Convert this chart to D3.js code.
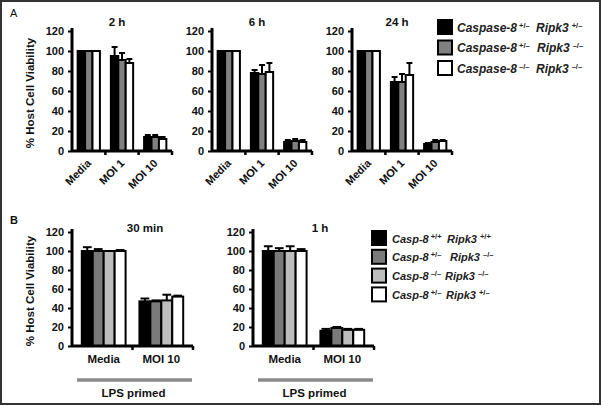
<!DOCTYPE html>
<html><head><meta charset="utf-8">
<script src="https://cdn.jsdelivr.net/npm/d3@7"></script>
<style>
body{margin:0;background:#fff;}
text{font-family:"Liberation Sans",Arial,sans-serif;}
</style></head>
<body><svg id="c" width="601" height="406"></svg>
<script>
// ---------- DATA ----------
const catsA = ["Media", "MOI 1", "MOI 10"];
const titlesA = ["2 h", "6 h", "24 h"];
// values per category, per series (Casp8+/- Ripk3+/-, Casp8+/- Ripk3-/-, Casp8-/- Ripk3-/-)
const valsA_2h  = [[100, 100, 100], [95, 91, 88], [14, 14, 12]];
const errA_2h   = [[0, 0, 0], [9, 7, 4], [2, 2, 2]];
const valsA_6h  = [[100, 100, 100], [78, 77, 79], [9, 10, 9]];
const errA_6h   = [[0, 0, 0], [3, 9, 9], [2, 2, 2]];
const valsA_24h = [[100, 100, 100], [69, 69, 76], [7, 9, 10]];
const errA_24h  = [[0, 0, 0], [5, 8, 12], [1, 2, 1]];
const seriesA = [
  ["Caspase-8", "+/\u2013", "Ripk3", "+/\u2013"],
  ["Caspase-8", "+/\u2013", "Ripk3", "\u2013/\u2013"],
  ["Caspase-8", "\u2013/\u2013", "Ripk3", "\u2013/\u2013"]
];
const coloursA = ["#000000", "#808080", "#ffffff"];

const catsB = ["Media", "MOI 10"];
const titlesB = ["30 min", "1 h"];
const valsB_30 = [[100, 100, 100, 100], [47, 47, 48, 52]];
const errB_30  = [[4, 2, 0, 1], [3, 1, 6, 1]];
const valsB_1h = [[100, 100, 100, 100], [16, 19, 17, 17]];
const errB_1h  = [[5, 3, 5, 2], [2, 1, 1, 1]];
const seriesB = [
  ["Casp-8", "+/+", "Ripk3", "+/+"],
  ["Casp-8", "+/\u2013", "Ripk3", "\u2013/\u2013"],
  ["Casp-8", "\u2013/\u2013", "Ripk3", "\u2013/\u2013"],
  ["Casp-8", "+/\u2013", "Ripk3", "+/\u2013"]
];
const coloursB = ["#000000", "#7a7a7a", "#bdbdbd", "#ffffff"];
const yTicks = [0, 20, 40, 60, 80, 100, 120];
const groupLabel = "LPS primed";
const yTitle = "% Host Cell Viability";

// ---------- DRAW ----------
const svg = d3.select("#c");
svg.append("rect").attr("x", 1).attr("y", 1).attr("width", 599).attr("height", 403)
  .attr("fill", "#fff").attr("stroke", "#333").attr("stroke-width", 2);

function panel(o) {
  const g = svg.append("g");
  const y = d3.scaleLinear().domain([0, 120]).range([o.y0, o.y120]);
  const x = d3.scaleBand().domain(o.cats).range([o.x0, o.x1])
    .paddingInner(o.pIn).paddingOuter(o.pOut);
  const nS = o.colours.length;
  const xs = d3.scaleBand().domain(d3.range(nS)).range([0, x.bandwidth()]);

  // bars
  o.cats.forEach((c, ci) => {
    o.vals[ci].forEach((v, si) => {
      const bx = x(c) + xs(si);
      g.append("rect").attr("x", bx).attr("y", y(v))
        .attr("width", xs.bandwidth()).attr("height", y(0) - y(v))
        .attr("fill", o.colours[si]).attr("stroke", "#000").attr("stroke-width", 2);
      const e = o.errs[ci][si];
      if (e > 0) {
        const cx = bx + xs.bandwidth() / 2;
        g.append("line").attr("x1", cx).attr("x2", cx).attr("y1", y(v)).attr("y2", y(v + e))
          .attr("stroke", "#000").attr("stroke-width", 2);
        g.append("line").attr("x1", cx - xs.bandwidth() * 0.4).attr("x2", cx + xs.bandwidth() * 0.4)
          .attr("y1", y(v + e)).attr("y2", y(v + e))
          .attr("stroke", "#000").attr("stroke-width", 2);
      }
    });
  });

  // y axis
  const ya = g.append("g").attr("transform", `translate(${o.x0},0)`)
    .call(d3.axisLeft(y).tickValues(yTicks).tickSize(4).tickPadding(4));
  ya.select(".domain").remove();
  ya.selectAll(".tick line").attr("stroke", "#000").attr("stroke-width", 2);
  ya.selectAll(".tick text").attr("font-size", 11).attr("font-weight", "bold")
    .attr("fill", "#111").attr("font-family", "Liberation Sans, Arial, sans-serif");
  g.append("line").attr("x1", o.x0).attr("x2", o.x0).attr("y1", y(0) + 1).attr("y2", y(120) - 3)
    .attr("stroke", "#000").attr("stroke-width", 3);

  // x axis
  g.append("line").attr("x1", o.x0).attr("x2", o.x1).attr("y1", y(0)).attr("y2", y(0))
    .attr("stroke", "#000").attr("stroke-width", 3);
  const step = x.step();
  const tickXs = o.cats.slice(1).map(c => x(c) - (step - x.bandwidth()) / 2);
  tickXs.push(o.x1);
  tickXs.forEach(tx => {
    g.append("line").attr("x1", tx).attr("x2", tx).attr("y1", y(0)).attr("y2", y(0) + 4)
      .attr("stroke", "#000").attr("stroke-width", 2.5);
  });

  // category labels
  o.cats.forEach(c => {
    const cx = x(c) + x.bandwidth() / 2;
    if (o.rotate) {
      g.append("text").attr("transform", `translate(${cx + 3},${y(0) + 13}) rotate(-45)`)
        .attr("text-anchor", "end").attr("font-size", 11).attr("font-weight", "bold")
        .attr("fill", "#111").text(c);
    } else {
      g.append("text").attr("x", cx).attr("y", y(0) + 17).attr("text-anchor", "middle")
        .attr("font-size", 11.5).attr("font-weight", "bold").attr("fill", "#111").text(c);
    }
  });

  // title
  g.append("text").attr("x", o.tx).attr("y", o.ty).attr("text-anchor", "middle")
    .attr("font-size", 11.5).attr("font-weight", "bold").attr("fill", "#111").text(o.title);

  if (o.ytitle) {
    g.append("text").attr("transform", `translate(${o.x0 - 38},${(y(0) + y(120)) / 2 + 2}) rotate(-90)`)
      .attr("text-anchor", "middle").attr("font-size", 11.5).attr("font-weight", "bold")
      .attr("fill", "#111").text(yTitle);
  }
  if (o.lps) {
    g.append("line").attr("x1", o.x0 + 5).attr("x2", o.x1 - 1).attr("y1", y(0) + 34).attr("y2", y(0) + 34)
      .attr("stroke", "#8a8a8a").attr("stroke-width", 3.5);
    g.append("text").attr("x", (o.x0 + o.x1) / 2 + 1).attr("y", y(0) + 51).attr("text-anchor", "middle")
      .attr("font-size", 11.5).attr("font-weight", "bold").attr("fill", "#111").text(groupLabel);
  }
}

const A = [[valsA_2h, errA_2h], [valsA_6h, errA_6h], [valsA_24h, errA_24h]];
A.forEach((d, i) => {
  const x0 = 72 + i * 140;
  panel({cats: catsA, vals: d[0], errs: d[1], colours: coloursA, x0: x0, x1: x0 + 100,
    y0: 151, y120: 31, pIn: 0.33, pOut: 0.17, rotate: true, title: titlesA[i],
    tx: x0 + 45, ty: 26, ytitle: i === 0});
});
const B = [[valsB_30, errB_30], [valsB_1h, errB_1h]];
B.forEach((d, i) => {
  const x0 = 72 + i * 181;
  panel({cats: catsB, vals: d[0], errs: d[1], colours: coloursB, x0: x0, x1: x0 + 121,
    y0: 346, y120: 232, pIn: 0.24, pOut: 0.17, rotate: false, title: titlesB[i],
    tx: x0 + (i === 0 ? 73 : 67), ty: 232, ytitle: i === 0, lps: true});
});

svg.append("text").attr("x", 10).attr("y", 17).attr("font-size", 11).attr("fill", "#111").text("A");
svg.append("text").attr("x", 10).attr("y", 224).attr("font-size", 11).attr("font-weight", "bold").attr("fill", "#111").text("B");

function legend(series, colours, lx, ly, dy, tx, rx, fs) {
  series.forEach((s, i) => {
    const yy = ly + i * dy;
    svg.append("rect").attr("x", lx).attr("y", yy - 7).attr("width", 14).attr("height", 14)
      .attr("fill", colours[i]).attr("stroke", "#000").attr("stroke-width", 2);
    const t = svg.append("text").attr("x", tx).attr("y", yy + 4.5).attr("font-size", fs)
      .attr("font-style", "italic").attr("font-weight", "bold").attr("fill", "#222");
    t.append("tspan").text(s[0]);
    t.append("tspan").attr("dx", 2).attr("dy", -4).attr("font-size", 7.5).attr("font-style", "normal").text(s[1]);
    const t2 = svg.append("text").attr("x", rx[i]).attr("y", yy + 4.5).attr("font-size", fs)
      .attr("font-style", "italic").attr("font-weight", "bold").attr("fill", "#222");
    t2.append("tspan").text(s[2]);
    t2.append("tspan").attr("dx", 3).attr("dy", -4).attr("font-size", 7.5).attr("font-style", "normal").text(s[3]);
  });
}
legend(seriesA, coloursA, 438, 27, 20.5, 457, [536, 537, 536], 12);
legend(seriesB, coloursB, 372, 238, 18.8, 392, [447, 450, 445, 446], 11);
</script></body></html>
